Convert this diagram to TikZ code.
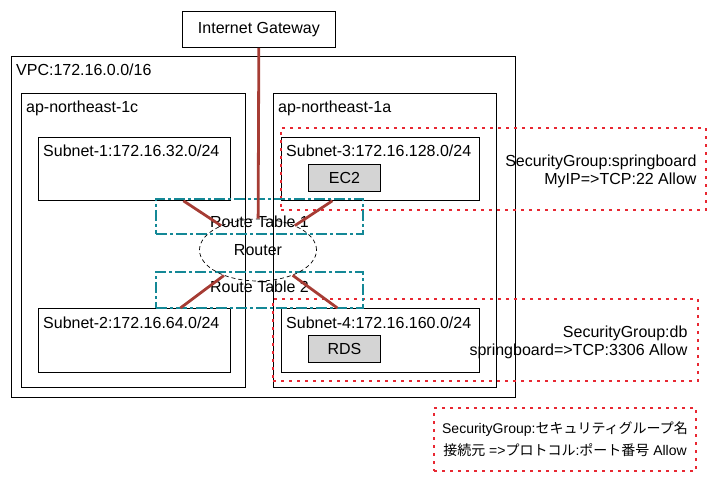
\documentclass[tikz,border=0pt]{standalone}
\usepackage{fontspec}
\setmainfont{Liberation Sans}
\newfontfamily\cjk{Noto Sans CJK JP}
\usetikzlibrary{positioning}
\usetikzlibrary{calc}
\usetikzlibrary{shapes.geometric}
\definecolor{linkred}{RGB}{166,60,52}
\definecolor{sgred}{RGB}{232,40,50}
\definecolor{rtteal}{RGB}{20,136,150}

\begin{document}
\begin{tikzpicture}[x=1pt,y=-1pt
    ,font=\fontsize{16pt}{18pt}\selectfont
    ,box/.style={draw,line width=0.8pt,anchor=north west,inner sep=0pt}
    ,zone/.style={box,label={[anchor=base west,inner sep=0pt,xshift=5pt,yshift=-20pt]north west:{#1}}}
    ,sg/.style={draw=sgred,line width=2pt,dash pattern=on 3pt off 5pt,anchor=north west,inner sep=0pt}
    ,rt/.style={draw=rtteal,line width=2pt,dash pattern=on 11pt off 3pt on 3pt off 3pt,anchor=north west,inner sep=0pt}
    ,link/.style={draw=linkred,line width=2.8pt}
    ]
  \useasboundingbox (0,0) rectangle (715,481);
  \node[box,minimum width=153pt,minimum height=36pt] (igw) at (182,11) {Internet Gateway};
  \node[zone={VPC:172.16.0.0/16},minimum width=504pt,minimum height=341pt] (vpc) at (11,56) {};
  \node[zone={ap-northeast-1c},minimum width=224pt,minimum height=294pt] (az1c) at (21,93) {};
  \node[zone={ap-northeast-1a},minimum width=223pt,minimum height=294pt] (az1a) at (273,93) {};
  \node[zone={Subnet-1:172.16.32.0/24},minimum width=192pt,minimum height=63pt] (sub1) at (38,137) {};
  \node[zone={Subnet-3:172.16.128.0/24},minimum width=198pt,minimum height=63pt] (sub3) at (281,137) {};
  \node[zone={Subnet-2:172.16.64.0/24},minimum width=192pt,minimum height=64pt] (sub2) at (38,308) {};
  \node[zone={Subnet-4:172.16.160.0/24},minimum width=198pt,minimum height=64pt] (sub4) at (281,308) {};
  \node[box,fill=black!17,minimum width=72pt,minimum height=27pt] (ec2) at (308,164) {EC2};
  \node[box,fill=black!17,minimum width=72pt,minimum height=27pt] (rds) at (308,335) {RDS};

  % security groups
  \node[sg,minimum width=425pt,minimum height=82pt] (sgspring) at (280,127) {};
  \node[anchor=east,align=right,xshift=-7pt,yshift=-2pt] (sgspringtxt) at (sgspring.east)
    {SecurityGroup:springboard\\MyIP=>TCP:22 Allow};
  \node[sg,minimum width=425pt,minimum height=82pt] (sgdb) at (272,298) {};
  \node[anchor=east,align=right,xshift=-8pt,yshift=-2pt] (sgdbtxt) at (sgdb.east)
    {SecurityGroup:db\\springboard=>TCP:3306 Allow};
  \node[sg,minimum width=262pt,minimum height=63pt,align=center
       ,font=\fontsize{14pt}{22pt}\selectfont] (key) at (433,407)
    {SecurityGroup:{\cjk セキュリティグループ名}\\{\cjk 接続元} =>{\cjk プロトコル}:{\cjk ポート番号} Allow};

  % routing
  \node[rt,minimum width=207pt,minimum height=35pt,label={[yshift=-5.5pt]center:Route Table 1}] (rt1) at (155,198) {};
  \node[rt,minimum width=207pt,minimum height=36pt,label={[yshift=3pt]center:Route Table 2}] (rt2) at (155,271) {};
  \node[ellipse,draw,line width=0.7pt,dash pattern=on 4pt off 3pt,minimum width=117pt,minimum height=62pt] (router) at (258,250) {Router};

  \draw[link] (igw) -- (router);
  \draw[link] ([xshift=49pt]sub1.south) -- (router);
  \draw[link] ([xshift=-48pt]sub3.south) -- (router);
  \draw[link] ([xshift=46pt]sub2.north) -- (router);
  \draw[link] ([xshift=-43pt]sub4.north) -- (router);
\end{tikzpicture}
\end{document}
